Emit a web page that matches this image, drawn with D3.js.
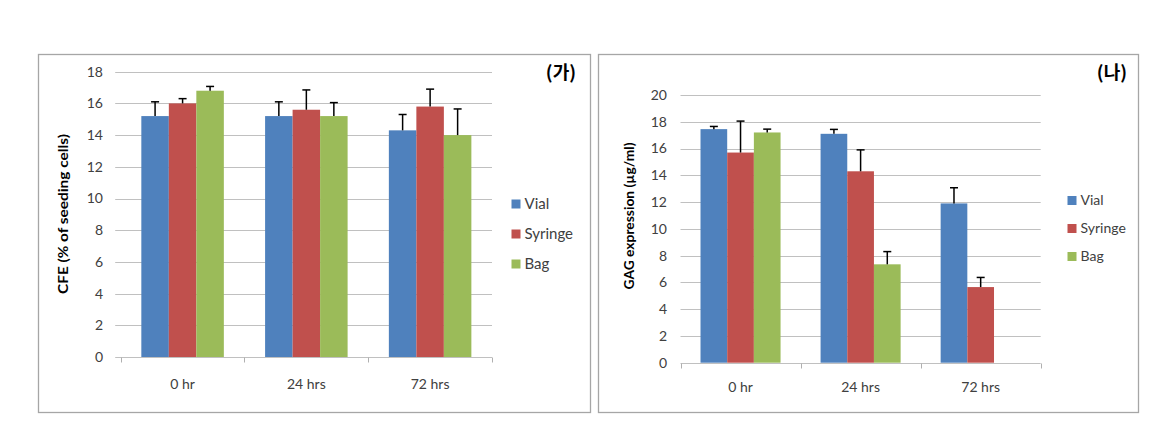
<!DOCTYPE html>
<html><head><meta charset="utf-8">
<script src="https://cdn.jsdelivr.net/npm/d3@7"></script>
<style>
html,body{margin:0;padding:0;background:#fff;}
text{font-family:Lato,"Open Sans",sans-serif;}
</style></head>
<body><svg id="c" width="1165" height="425"></svg>
<script>
const categories = ["0 hr", "24 hrs", "72 hrs"];
const seriesNames = ["Vial", "Syringe", "Bag"];
const colors = ["#4F81BD", "#C0504D", "#9BBB59"];

// Left panel (가): CFE
const cfeVial = [15.2, 15.2, 14.3];
const cfeSyringe = [16.0, 15.6, 15.8];
const cfeBag = [16.8, 15.2, 14.0];
const cfeVialErr = [0.9, 0.9, 1.0];
const cfeSyringeErr = [0.3, 1.25, 1.1];
const cfeBagErr = [0.27, 0.85, 1.65];
const cfeTicks = [0, 2, 4, 6, 8, 10, 12, 14, 16, 18];

// Right panel (나): GAG
const gagVial = [17.45, 17.1, 11.9];
const gagSyringe = [15.7, 14.3, 5.65];
const gagBag = [17.2, 7.35, null];
const gagVialErr = [0.2, 0.33, 1.17];
const gagSyringeErr = [2.35, 1.6, 0.72];
const gagBagErr = [0.25, 0.95, null];
const gagTicks = [0, 2, 4, 6, 8, 10, 12, 14, 16, 18, 20];

const svg = d3.select("#c");

function panel(cfg) {
  const g = svg.append("g");
  g.append("rect").attr("x", cfg.box[0]).attr("y", cfg.box[1])
    .attr("width", cfg.box[2]).attr("height", cfg.box[3])
    .attr("fill", "#fff").attr("stroke", "#a6a6a6").attr("stroke-width", 1.3);

  const x0 = d3.scaleBand().domain(categories).range([cfg.x0, cfg.x1]).paddingInner(0).paddingOuter(0);
  const bw = x0.bandwidth() / 4.5;
  const y = d3.scaleLinear().domain([0, cfg.ymax]).range([cfg.yb, cfg.yt]);

  // gridlines
  g.append("g").selectAll("line").data(cfg.ticks).join("line")
    .attr("x1", cfg.x0 - cfg.tickOut).attr("x2", cfg.x1)
    .attr("y1", d => Math.round(y(d)) + 0.5).attr("y2", d => Math.round(y(d)) + 0.5)
    .attr("stroke", "#c0c0c0").attr("stroke-width", 1);

  // y tick labels
  g.append("g").selectAll("text").data(cfg.ticks).join("text")
    .attr("x", cfg.labX).attr("y", d => y(d)).attr("dy", "0.35em")
    .attr("text-anchor", "end").attr("font-size", 14).attr("fill", "#404040")
    .text(d => d);

  // x axis ticks
  const bounds = [cfg.x0, ...categories.map(c => x0(c) + x0.bandwidth())];
  g.append("g").selectAll("line").data(bounds).join("line")
    .attr("x1", d => Math.round(d) + 0.5).attr("x2", d => Math.round(d) + 0.5)
    .attr("y1", Math.round(y(0)) + 0.5).attr("y2", Math.round(y(0)) + 5.5)
    .attr("stroke", "#b0b0b0");

  // category labels
  g.append("g").selectAll("text").data(categories).join("text")
    .attr("x", d => x0(d) + x0.bandwidth() / 2).attr("y", cfg.catY).attr("dy", "0.35em")
    .attr("text-anchor", "middle").attr("font-size", 14).attr("fill", "#404040")
    .text(d => d);

  // bars
  cfg.values.forEach((vals, si) => {
    const gs = g.append("g");
    const data = categories.map((c, i) => ({c, v: vals[i], e: cfg.errs[si][i]})).filter(d => d.v != null);
    gs.selectAll("rect").data(data).join("rect")
      .attr("x", d => x0(d.c) + bw * 0.75 + si * bw)
      .attr("y", d => y(d.v)).attr("width", bw).attr("height", d => y(0) - y(d.v))
      .attr("fill", colors[si]);
    gs.selectAll("line.v").data(data).join("line").attr("class", "v")
      .attr("x1", d => x0(d.c) + bw * 1.25 + si * bw).attr("x2", d => x0(d.c) + bw * 1.25 + si * bw)
      .attr("y1", d => y(d.v)).attr("y2", d => y(d.v + d.e))
      .attr("stroke", "#000").attr("stroke-width", 1.5);
    gs.selectAll("line.h").data(data).join("line").attr("class", "h")
      .attr("x1", d => x0(d.c) + bw * 1.25 + si * bw - 4).attr("x2", d => x0(d.c) + bw * 1.25 + si * bw + 4)
      .attr("y1", d => y(d.v + d.e)).attr("y2", d => y(d.v + d.e))
      .attr("stroke", "#000").attr("stroke-width", 1.5);
  });

  // y axis title
  g.append("text").attr("transform", `translate(${cfg.titleX},${cfg.titleY}) rotate(-90)`)
    .attr("text-anchor", "middle").attr("dy", "0.35em")
    .attr("font-size", 14).attr("font-weight", "bold").attr("fill", "#000")
    .attr("textLength", cfg.titleLen).attr("lengthAdjust", "spacingAndGlyphs")
    .text(cfg.yTitle);

  // legend
  const lg = g.append("g");
  seriesNames.forEach((n, i) => {
    const yy = cfg.legY + i * cfg.legDy;
    lg.append("rect").attr("x", cfg.legX).attr("y", yy - 4.5).attr("width", 9).attr("height", 9).attr("fill", colors[i]);
    lg.append("text").attr("x", cfg.legX + 13).attr("y", yy).attr("dy", "0.35em")
      .attr("font-size", cfg.legFont).attr("fill", "#404040").text(n);
  });

  // panel label
  g.append("text").attr("x", cfg.tagX).attr("y", cfg.tagY).attr("dy", "0.35em")
    .attr("text-anchor", "end").attr("font-size", 18).attr("font-weight", "bold")
    .style("font-family", "'Noto Sans CJK KR', sans-serif").attr("fill", "#000")
    .text(cfg.tag);
}

panel({
  box: [38.5, 54.5, 552, 358], x0: 120.7, x1: 492, yt: 71.7, yb: 357, ymax: 18, ticks: cfeTicks, tickOut: 5.5,
  labX: 103, catY: 384, values: [cfeVial, cfeSyringe, cfeBag], errs: [cfeVialErr, cfeSyringeErr, cfeBagErr],
  yTitle: "CFE (% of seeding cells)", titleX: 63, titleY: 214, titleLen: 160,
  legX: 511.5, legY: 204, legDy: 30, legFont: 15, tag: "(가)", tagX: 576, tagY: 73
});
panel({
  box: [598.5, 54.5, 540, 358], x0: 680.5, x1: 1040.7, yt: 95, yb: 362.7, ymax: 20, ticks: gagTicks, tickOut: 0,
  labX: 667, catY: 387, values: [gagVial, gagSyringe, gagBag], errs: [gagVialErr, gagSyringeErr, gagBagErr],
  yTitle: "GAG expression (µg/ml)", titleX: 629, titleY: 216, titleLen: 147,
  legX: 1067.5, legY: 200.5, legDy: 28, legFont: 14, tag: "(나)", tagX: 1127, tagY: 73
});
</script></body></html>
